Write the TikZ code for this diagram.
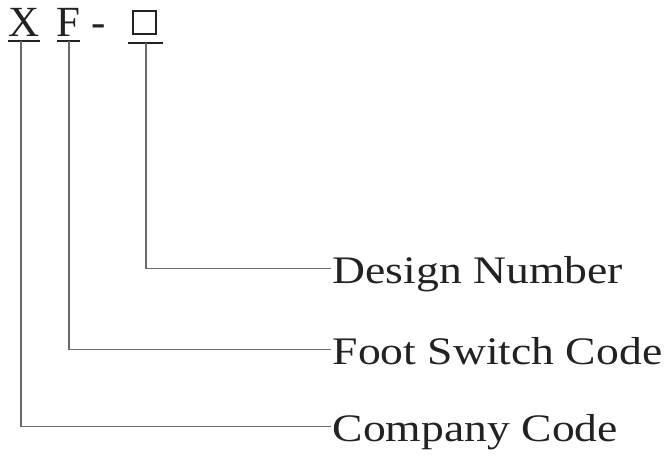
\documentclass[tikz,border=0pt]{standalone}
\usepackage{fontspec}
\setmainfont{Liberation Serif}
\newfontfamily\xflabelfont[FakeStretch=1.17]{Liberation Serif}
\definecolor{xfink}{HTML}{222222}
\definecolor{xfline}{HTML}{6A6A6A}
\tikzset{
  codechar/.style={font=\fontsize{43}{43}\selectfont,text=xfink,inner sep=0pt,anchor=base},
  codebar/.style={draw=xfink,line width=2.2pt},
  codelabel/.style={font=\xflabelfont\fontsize{39}{39}\selectfont,text=xfink,inner sep=1.5pt,anchor=base west},
  leader/.style={draw=xfline,line width=1.3pt}
}
\begin{document}
\begin{tikzpicture}[x=1pt,y=-1pt]
  \useasboundingbox (0,0) rectangle (666,457);
  % model code
  \node[codechar] (cX) at (24,36.5) {X};
  \node[codechar] (cF) at (68,36.5) {F};
  \node[codechar] (cDash) at (99,36.5) {-};
  \node[draw=xfink,line width=2.2pt,minimum size=23pt,inner sep=0pt] (cBox) at (144.5,22.5) {};
  % underlines
  \foreach \n/\a/\b/\m/\y in {X/8/40/21/41,F/57/80/69/41,Box/128/163/146/43}{%
    \draw[codebar] (\a,\y) -- (\b,\y);
    \coordinate (u\n) at (\m,\y);}
  % labels
  \node[codelabel] (lDesign) at (331,283) {Design Number};
  \node[codelabel] (lFoot) at (331,364) {Foot Switch Code};
  \node[codelabel] (lCompany) at (331,441) {Company Code};
  % leaders
  \draw[leader] (uBox) |- ([yshift=14.5pt]lDesign.base west);
  \draw[leader] (uF) |- ([yshift=14.5pt]lFoot.base west);
  \draw[leader] (uX) |- ([yshift=14.5pt]lCompany.base west);
\end{tikzpicture}
\end{document}
